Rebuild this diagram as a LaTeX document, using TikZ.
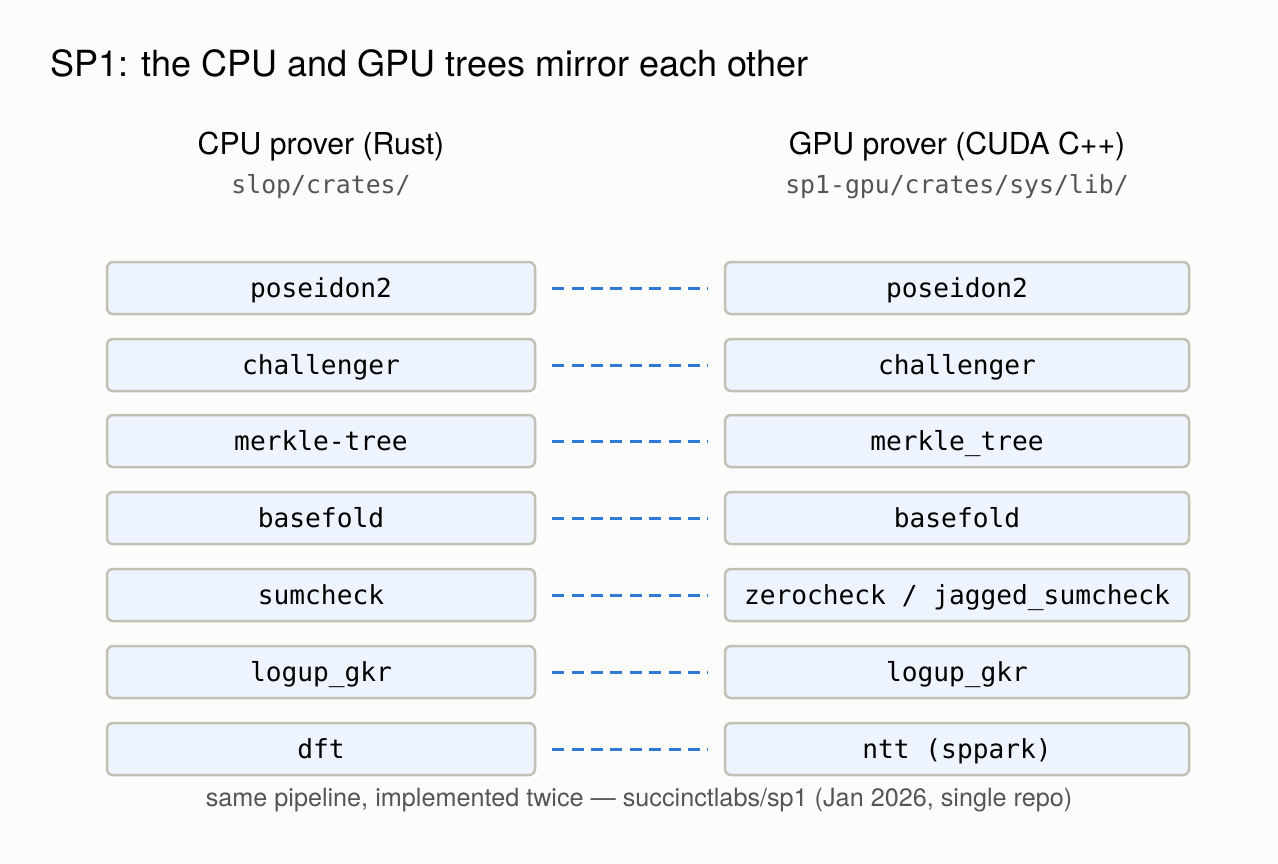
\documentclass[tikz,border=0pt]{standalone}
\usepackage{fontspec}
\setmainfont{TeX Gyre Heros}
\setmonofont{DejaVu Sans Mono}
\usepackage{xcolor}
\usetikzlibrary{positioning}
\definecolor{spbg}{HTML}{FCFCFA}
\definecolor{spbox}{HTML}{EEF4FD}
\definecolor{spborder}{HTML}{C2C1B6}
\definecolor{splink}{HTML}{2F7AD6}
\definecolor{spgray}{HTML}{555555}

\tikzset{
  modbox/.style={draw=spborder, fill=spbox, line width=1.25pt, rounded corners=3pt,
    minimum height=26pt, text height=12.5pt, text depth=3pt,
    font=\fontsize{13.1}{15}\selectfont\ttfamily},
  cpubox/.style={modbox, minimum width=214pt},
  gpubox/.style={modbox, minimum width=232pt},
  mirror/.style={draw=splink, line width=1.5pt, dash pattern=on 6pt off 3.7pt, shorten <=8pt, shorten >=8pt},
  colhead/.style={font=\fontsize{15.1}{18}\selectfont},
  colpath/.style={text=spgray, font=\fontsize{12.4}{14}\selectfont\ttfamily}
}

\begin{document}
\begin{tikzpicture}[x=0.5pt,y=-0.5pt]
    \fill[spbg] (0,0) rectangle (1278,863);
    \useasboundingbox (0,0) rectangle (1278,863);

    \node[anchor=west, inner sep=0pt, font=\fontsize{18}{21}\selectfont] (title) at (50,63) {SP1: the CPU and GPU trees mirror each other};

    % Column heads
    \node[colhead] (cpuhead) at (321,147) {CPU prover (Rust)};
    \node[colpath] (cpupath) at (321,187) {slop/crates/};
    \node[colhead] (gpuhead) at (957,147) {GPU prover (CUDA C++)};
    \node[colpath] (gpupath) at (957,187) {sp1-gpu/crates/sys/lib/};

    % CPU tree
    \node[cpubox] (cpu1) at (321,288) {poseidon2};
    \node[cpubox] (cpu2) at (321,365) {challenger};
    \node[cpubox] (cpu3) at (321,441) {merkle-tree};
    \node[cpubox] (cpu4) at (321,518) {basefold};
    \node[cpubox] (cpu5) at (321,595) {sumcheck};
    \node[cpubox] (cpu6) at (321,672) {logup\_gkr};
    \node[cpubox] (cpu7) at (321,749) {dft};

    % GPU tree
    \node[gpubox] (gpu1) at (957,288) {poseidon2};
    \node[gpubox] (gpu2) at (957,365) {challenger};
    \node[gpubox] (gpu3) at (957,441) {merkle\_tree};
    \node[gpubox] (gpu4) at (957,518) {basefold};
    \node[gpubox] (gpu5) at (957,595) {zerocheck / jagged\_sumcheck};
    \node[gpubox] (gpu6) at (957,672) {logup\_gkr};
    \node[gpubox] (gpu7) at (957,749) {ntt (sppark)};

    % Links
    \draw[mirror] (cpu1) -- (gpu1);
    \draw[mirror] (cpu2) -- (gpu2);
    \draw[mirror] (cpu3) -- (gpu3);
    \draw[mirror] (cpu4) -- (gpu4);
    \draw[mirror] (cpu5) -- (gpu5);
    \draw[mirror] (cpu6) -- (gpu6);
    \draw[mirror] (cpu7) -- (gpu7);

    \node[text=spgray, font=\fontsize{12.6}{15}\selectfont] (footer) at (639,800) {same pipeline, implemented twice --- succinctlabs/sp1 (Jan 2026, single repo)};
\end{tikzpicture}
\end{document}
